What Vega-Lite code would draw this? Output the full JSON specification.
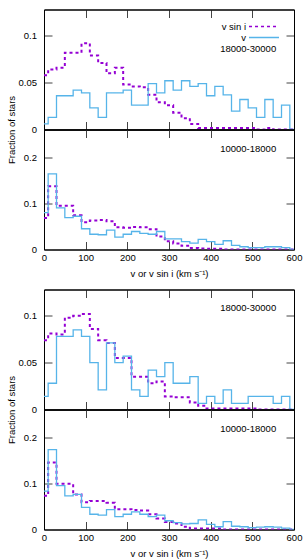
{
  "$schema": "https://vega.github.io/schema/vega-lite/v6.json",
  "padding": {"left": 5, "top": 8.5, "right": 0, "bottom": 0},
  "background": "white",
  "spacing": 10,
  "datasets": {
    "p1s": [{"v":0,"f":0.058},{"v":20,"f":0.064},{"v":40,"f":0.066},{"v":60,"f":0.082},{"v":80,"f":0.082},{"v":100,"f":0.092},{"v":120,"f":0.079},{"v":140,"f":0.071},{"v":160,"f":0.060},{"v":180,"f":0.066},{"v":200,"f":0.048},{"v":220,"f":0.046},{"v":240,"f":0.045},{"v":260,"f":0.037},{"v":280,"f":0.029},{"v":300,"f":0.026},{"v":320,"f":0.018},{"v":340,"f":0.012},{"v":360,"f":0.006},{"v":380,"f":0.0015},{"v":400,"f":0.0015},{"v":420,"f":0.0015},{"v":440,"f":0.0015},{"v":460,"f":0.0015},{"v":480,"f":0.0015},{"v":500,"f":0.0015},{"v":520,"f":0},{"v":540,"f":0.0015},{"v":560,"f":0},{"v":580,"f":0},{"v":600,"f":0}],
    "p1v": [{"v":0,"f":0.006},{"v":20,"f":0.013},{"v":40,"f":0.036},{"v":60,"f":0.036},{"v":80,"f":0.042},{"v":100,"f":0.039},{"v":120,"f":0.023},{"v":140,"f":0.013},{"v":160,"f":0.039},{"v":180,"f":0.039},{"v":200,"f":0.042},{"v":220,"f":0.026},{"v":240,"f":0.026},{"v":260,"f":0.049},{"v":280,"f":0.039},{"v":300,"f":0.052},{"v":320,"f":0.042},{"v":340,"f":0.052},{"v":360,"f":0.046},{"v":380,"f":0.049},{"v":400,"f":0.036},{"v":420,"f":0.046},{"v":440,"f":0.037},{"v":460,"f":0.0197},{"v":480,"f":0.032},{"v":500,"f":0.023},{"v":520,"f":0.013},{"v":540,"f":0.032},{"v":560,"f":0.013},{"v":580,"f":0.026},{"v":600,"f":0}],
    "p2s": [{"v":0,"f":0.068},{"v":20,"f":0.137},{"v":40,"f":0.095},{"v":60,"f":0.095},{"v":80,"f":0.074},{"v":100,"f":0.059},{"v":120,"f":0.063},{"v":140,"f":0.064},{"v":160,"f":0.061},{"v":180,"f":0.048},{"v":200,"f":0.047},{"v":220,"f":0.049},{"v":240,"f":0.048},{"v":260,"f":0.044},{"v":280,"f":0.028},{"v":300,"f":0.018},{"v":320,"f":0.013},{"v":340,"f":0.008},{"v":360,"f":0.003},{"v":380,"f":0.002},{"v":400,"f":0.0015},{"v":420,"f":0.0015},{"v":440,"f":0},{"v":460,"f":0},{"v":480,"f":0},{"v":500,"f":0},{"v":520,"f":0},{"v":540,"f":0},{"v":560,"f":0},{"v":580,"f":0},{"v":600,"f":0}],
    "p2v": [{"v":0,"f":0.080},{"v":20,"f":0.164},{"v":40,"f":0.090},{"v":60,"f":0.069},{"v":80,"f":0.072},{"v":100,"f":0.045},{"v":120,"f":0.033},{"v":140,"f":0.032},{"v":160,"f":0.042},{"v":180,"f":0.027},{"v":200,"f":0.033},{"v":220,"f":0.039},{"v":240,"f":0.035},{"v":260,"f":0.033},{"v":280,"f":0.039},{"v":300,"f":0.023},{"v":320,"f":0.023},{"v":340,"f":0.017},{"v":360,"f":0.014},{"v":380,"f":0.022},{"v":400,"f":0.017},{"v":420,"f":0.011},{"v":440,"f":0.019},{"v":460,"f":0.009},{"v":480,"f":0.006},{"v":500,"f":0.004},{"v":520,"f":0.004},{"v":540,"f":0.006},{"v":560,"f":0.006},{"v":580,"f":0.004},{"v":600,"f":0}],
    "p3s": [{"v":0,"f":0.074},{"v":20,"f":0.081},{"v":40,"f":0.080},{"v":60,"f":0.098},{"v":80,"f":0.100},{"v":100,"f":0.102},{"v":120,"f":0.086},{"v":140,"f":0.074},{"v":160,"f":0.071},{"v":180,"f":0.055},{"v":200,"f":0.055},{"v":220,"f":0.035},{"v":240,"f":0.035},{"v":260,"f":0.028},{"v":280,"f":0.030},{"v":300,"f":0.014},{"v":320,"f":0.013},{"v":340,"f":0.013},{"v":360,"f":0.0075},{"v":380,"f":0.004},{"v":400,"f":0.001},{"v":420,"f":0.001},{"v":440,"f":0.001},{"v":460,"f":0.001},{"v":480,"f":0.001},{"v":500,"f":0.001},{"v":520,"f":0},{"v":540,"f":0},{"v":560,"f":0},{"v":580,"f":0},{"v":600,"f":0}],
    "p3v": [{"v":0,"f":0.014},{"v":20,"f":0.028},{"v":40,"f":0.078},{"v":60,"f":0.078},{"v":80,"f":0.085},{"v":100,"f":0.078},{"v":120,"f":0.050},{"v":140,"f":0.021},{"v":160,"f":0.071},{"v":180,"f":0.050},{"v":200,"f":0.057},{"v":220,"f":0.021},{"v":240,"f":0.014},{"v":260,"f":0.042},{"v":280,"f":0.035},{"v":300,"f":0.050},{"v":320,"f":0.028},{"v":340,"f":0.028},{"v":360,"f":0.035},{"v":380,"f":0.0065},{"v":400,"f":0.014},{"v":420,"f":0.0065},{"v":440,"f":0.021},{"v":460,"f":0.0065},{"v":480,"f":0.0065},{"v":500,"f":0.014},{"v":520,"f":0.014},{"v":540,"f":0.014},{"v":560,"f":0.0065},{"v":580,"f":0.014},{"v":600,"f":0}],
    "p4s": [{"v":0,"f":0.073},{"v":20,"f":0.145},{"v":40,"f":0.099},{"v":60,"f":0.099},{"v":80,"f":0.076},{"v":100,"f":0.059},{"v":120,"f":0.062},{"v":140,"f":0.062},{"v":160,"f":0.058},{"v":180,"f":0.044},{"v":200,"f":0.044},{"v":220,"f":0.042},{"v":240,"f":0.041},{"v":260,"f":0.033},{"v":280,"f":0.024},{"v":300,"f":0.016},{"v":320,"f":0.013},{"v":340,"f":0.006},{"v":360,"f":0.002},{"v":380,"f":0.002},{"v":400,"f":0.002},{"v":420,"f":0.002},{"v":440,"f":0},{"v":460,"f":0},{"v":480,"f":0},{"v":500,"f":0},{"v":520,"f":0},{"v":540,"f":0},{"v":560,"f":0},{"v":580,"f":0},{"v":600,"f":0}],
    "p4v": [{"v":0,"f":0.083},{"v":20,"f":0.173},{"v":40,"f":0.095},{"v":60,"f":0.073},{"v":80,"f":0.076},{"v":100,"f":0.048},{"v":120,"f":0.033},{"v":140,"f":0.031},{"v":160,"f":0.043},{"v":180,"f":0.028},{"v":200,"f":0.033},{"v":220,"f":0.038},{"v":240,"f":0.033},{"v":260,"f":0.028},{"v":280,"f":0.031},{"v":300,"f":0.019},{"v":320,"f":0.015},{"v":340,"f":0.012},{"v":360,"f":0.013},{"v":380,"f":0.021},{"v":400,"f":0.011},{"v":420,"f":0.006},{"v":440,"f":0.017},{"v":460,"f":0.007},{"v":480,"f":0.006},{"v":500,"f":0.004},{"v":520,"f":0.005},{"v":540,"f":0.006},{"v":560,"f":0.005},{"v":580,"f":0.003},{"v":600,"f":0}]
  },
  "resolve": {"scale": {"color": "independent", "strokeDash": "independent"}, "legend": {"color": "independent", "strokeDash": "independent"}},
  "vconcat": [
    {
      "bounds": "flush",
      "spacing": 0,
      "resolve": {"scale": {"color": "independent", "strokeDash": "independent"}, "legend": {"color": "independent", "strokeDash": "independent"}},
      "vconcat": [
        {
          "width": 250, "height": 120,
          "resolve": {"axis": {"x": "independent", "y": "independent"}},
          "layer": [
            {
              "data": {"name": "p1s"},
              "mark": {"type": "line", "interpolate": "step", "strokeWidth": 2, "clip": true},
              "encoding": {
                "x": {"field": "v", "type": "quantitative", "scale": {"domain": [0, 600], "nice": false}, "axis": {"orient": "bottom", "labels": false, "title": null, "values": [0,100,200,300,400,500,600]}},
                "y": {"field": "f", "type": "quantitative", "scale": {"domain": [0, 0.128], "nice": false}, "axis": {"orient": "left", "values": [0, 0.05, 0.1], "format": ".2~f", "title": "Fraction of stars", "titleX": -33, "titleY": 120, "titleAngle": -90, "titleAlign": "center", "titleBaseline": "middle"}},
                "color": {"datum": "v sin i", "scale": {"domain": ["v sin i", "v"], "range": ["#9400d3", "#56b4e9"]}, "legend": {"title": null, "orient": "top-right", "offset": 11, "padding": 0, "symbolType": "M-3,0H3", "symbolSize": 100, "symbolStrokeWidth": 1.6, "labelAlign": "right", "labelOffset": -24, "rowPadding": 0, "labelFontSize": 9.5, "labelFont": "Liberation Sans", "labelColor": "black"}},
                "strokeDash": {"datum": "v sin i", "scale": {"domain": ["v sin i", "v"], "range": [[3, 3], [1, 0]]}, "legend": {"title": null, "orient": "top-right", "offset": 11, "padding": 0, "symbolType": "M-3,0H3", "symbolSize": 100, "symbolStrokeWidth": 1.6, "labelAlign": "right", "labelOffset": -24, "rowPadding": 0, "labelFontSize": 9.5, "labelFont": "Liberation Sans", "labelColor": "black"}}
              }
            },
            {
              "data": {"name": "p1v"},
              "mark": {"type": "line", "interpolate": "step", "strokeWidth": 1.3, "clip": true},
              "encoding": {
                "x": {"field": "v", "type": "quantitative", "scale": {"domain": [0, 600], "nice": false}, "axis": {"orient": "top", "labels": false, "title": null, "values": [0,100,200,300,400,500,600]}},
                "y": {"field": "f", "type": "quantitative", "scale": {"domain": [0, 0.128], "nice": false}, "axis": {"orient": "right", "labels": false, "title": null, "values": [0, 0.05, 0.1]}},
                "color": {"datum": "v", "scale": {"domain": ["v sin i", "v"], "range": ["#9400d3", "#56b4e9"]}, "legend": {"title": null, "orient": "top-right", "offset": 11, "padding": 0, "symbolType": "M-3,0H3", "symbolSize": 100, "symbolStrokeWidth": 1.6, "labelAlign": "right", "labelOffset": -24, "rowPadding": 0, "labelFontSize": 9.5, "labelFont": "Liberation Sans", "labelColor": "black"}},
                "strokeDash": {"datum": "v", "scale": {"domain": ["v sin i", "v"], "range": [[3, 3], [1, 0]]}, "legend": {"title": null, "orient": "top-right", "offset": 11, "padding": 0, "symbolType": "M-3,0H3", "symbolSize": 100, "symbolStrokeWidth": 1.6, "labelAlign": "right", "labelOffset": -24, "rowPadding": 0, "labelFontSize": 9.5, "labelFont": "Liberation Sans", "labelColor": "black"}}
              }
            },
            {
              "data": {"values": [{}]},
              "mark": {"type": "text", "fontSize": 9.5, "font": "Liberation Sans", "color": "black"},
              "encoding": {
                "x": {"datum": 490, "type": "quantitative", "axis": null},
                "y": {"datum": 0.0857, "type": "quantitative", "axis": null},
                "text": {"value": "18000-30000"}
              }
            }
          ]
        },
        {
          "width": 250, "height": 120,
          "resolve": {"axis": {"x": "independent", "y": "independent"}},
          "layer": [
            {
              "data": {"name": "p2s"},
              "mark": {"type": "line", "interpolate": "step", "strokeWidth": 2, "clip": true, "color": "#9400d3", "strokeDash": [3, 3]},
              "encoding": {
                "x": {"field": "v", "type": "quantitative", "scale": {"domain": [0, 600], "nice": false}, "axis": {"orient": "bottom", "title": "v or v sin i (km s⁻¹)", "values": [0,100,200,300,400,500,600]}},
                "y": {"field": "f", "type": "quantitative", "scale": {"domain": [0, 0.26], "nice": false}, "axis": {"orient": "left", "values": [0, 0.1, 0.2], "format": ".2~f", "title": null}}
              }
            },
            {
              "data": {"name": "p2v"},
              "mark": {"type": "line", "interpolate": "step", "strokeWidth": 1.3, "clip": true, "color": "#56b4e9"},
              "encoding": {
                "x": {"field": "v", "type": "quantitative", "scale": {"domain": [0, 600], "nice": false}, "axis": {"orient": "top", "labels": false, "title": null, "values": [0,100,200,300,400,500,600]}},
                "y": {"field": "f", "type": "quantitative", "scale": {"domain": [0, 0.26], "nice": false}, "axis": {"orient": "right", "labels": false, "title": null, "values": [0, 0.1, 0.2]}}
              }
            },
            {
              "data": {"values": [{}]},
              "mark": {"type": "text", "fontSize": 9.5, "font": "Liberation Sans", "color": "black"},
              "encoding": {
                "x": {"datum": 490, "type": "quantitative", "axis": null},
                "y": {"datum": 0.218, "type": "quantitative", "axis": null},
                "text": {"value": "10000-18000"}
              }
            }
          ]
        }
      ]
    },
    {
      "bounds": "flush",
      "spacing": 0,
      "resolve": {"scale": {"color": "independent", "strokeDash": "independent"}, "legend": {"color": "independent", "strokeDash": "independent"}},
      "vconcat": [
        {
          "width": 250, "height": 120,
          "resolve": {"axis": {"x": "independent", "y": "independent"}},
          "layer": [
            {
              "data": {"name": "p3s"},
              "mark": {"type": "line", "interpolate": "step", "strokeWidth": 2, "clip": true, "color": "#9400d3", "strokeDash": [3, 3]},
              "encoding": {
                "x": {"field": "v", "type": "quantitative", "scale": {"domain": [0, 600], "nice": false}, "axis": {"orient": "bottom", "labels": false, "title": null, "values": [0,100,200,300,400,500,600]}},
                "y": {"field": "f", "type": "quantitative", "scale": {"domain": [0, 0.128], "nice": false}, "axis": {"orient": "left", "values": [0, 0.05, 0.1], "format": ".2~f", "title": "Fraction of stars", "titleX": -33, "titleY": 120, "titleAngle": -90, "titleAlign": "center", "titleBaseline": "middle"}}
              }
            },
            {
              "data": {"name": "p3v"},
              "mark": {"type": "line", "interpolate": "step", "strokeWidth": 1.3, "clip": true, "color": "#56b4e9"},
              "encoding": {
                "x": {"field": "v", "type": "quantitative", "scale": {"domain": [0, 600], "nice": false}, "axis": {"orient": "top", "labels": false, "title": null, "values": [0,100,200,300,400,500,600]}},
                "y": {"field": "f", "type": "quantitative", "scale": {"domain": [0, 0.128], "nice": false}, "axis": {"orient": "right", "labels": false, "title": null, "values": [0, 0.05, 0.1]}}
              }
            },
            {
              "data": {"values": [{}]},
              "mark": {"type": "text", "fontSize": 9.5, "font": "Liberation Sans", "color": "black"},
              "encoding": {
                "x": {"datum": 490, "type": "quantitative", "axis": null},
                "y": {"datum": 0.108, "type": "quantitative", "axis": null},
                "text": {"value": "18000-30000"}
              }
            }
          ]
        },
        {
          "width": 250, "height": 120,
          "resolve": {"axis": {"x": "independent", "y": "independent"}},
          "layer": [
            {
              "data": {"name": "p4s"},
              "mark": {"type": "line", "interpolate": "step", "strokeWidth": 2, "clip": true, "color": "#9400d3", "strokeDash": [3, 3]},
              "encoding": {
                "x": {"field": "v", "type": "quantitative", "scale": {"domain": [0, 600], "nice": false}, "axis": {"orient": "bottom", "title": "v or v sin i (km s⁻¹)", "values": [0,100,200,300,400,500,600]}},
                "y": {"field": "f", "type": "quantitative", "scale": {"domain": [0, 0.26], "nice": false}, "axis": {"orient": "left", "values": [0, 0.1, 0.2], "format": ".2~f", "title": null}}
              }
            },
            {
              "data": {"name": "p4v"},
              "mark": {"type": "line", "interpolate": "step", "strokeWidth": 1.3, "clip": true, "color": "#56b4e9"},
              "encoding": {
                "x": {"field": "v", "type": "quantitative", "scale": {"domain": [0, 600], "nice": false}, "axis": {"orient": "top", "labels": false, "title": null, "values": [0,100,200,300,400,500,600]}},
                "y": {"field": "f", "type": "quantitative", "scale": {"domain": [0, 0.26], "nice": false}, "axis": {"orient": "right", "labels": false, "title": null, "values": [0, 0.1, 0.2]}}
              }
            },
            {
              "data": {"values": [{}]},
              "mark": {"type": "text", "fontSize": 9.5, "font": "Liberation Sans", "color": "black"},
              "encoding": {
                "x": {"datum": 490, "type": "quantitative", "axis": null},
                "y": {"datum": 0.218, "type": "quantitative", "axis": null},
                "text": {"value": "10000-18000"}
              }
            }
          ]
        }
      ]
    }
  ],
  "config": {
    "font": "Liberation Sans",
    "view": {"stroke": "black", "strokeWidth": 1},
    "title": {"font": "Liberation Sans", "fontSize": 9.5, "fontWeight": "normal", "color": "black"},
    "axis": {"grid": false, "domain": true, "domainColor": "black", "domainWidth": 1, "tickColor": "#444", "tickSize": -8, "tickWidth": 1, "labelFont": "Liberation Sans", "labelFontSize": 9.5, "labelColor": "black", "labelOverlap": false, "labelFlush": false, "titleFont": "Liberation Sans", "titleFontSize": 9.5, "titleFontWeight": "normal", "titleColor": "black", "zindex": 1},
    "axisX": {"labelPadding": 10.5, "titlePadding": 7},
    "axisY": {"labelPadding": 15.5}
  }
}
